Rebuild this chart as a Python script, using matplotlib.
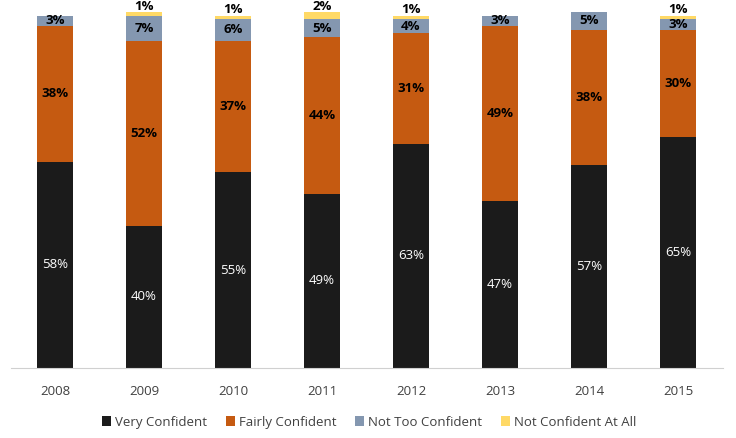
import matplotlib as mpl
mpl.use('Agg')
import matplotlib.pyplot as plt
import numpy as np

years = ['2008', '2009', '2010', '2011', '2012', '2013', '2014', '2015']
very = [58, 40, 55, 49, 63, 47, 57, 65]
fairly = [38, 52, 37, 44, 31, 49, 38, 30]
not_too = [3, 7, 6, 5, 4, 3, 5, 3]
not_at_all = [0, 1, 1, 2, 1, 0, 0, 1]

names = ['Very Confident', 'Fairly Confident', 'Not Too Confident', 'Not Confident At All']
colors = ['#1b1b1b', '#c55a11', '#8497b0', '#ffd966']

plt.rcParams['font.family'] = ['Liberation Sans Narrow', 'Open Sans', 'DejaVu Sans']

fig = plt.figure(figsize=(7.36, 4.38), dpi=100)
ax = fig.add_axes([11 / 736, 70 / 438, 712 / 736, 368 / 438])

x = np.arange(len(years))
bottom = np.zeros(len(years))
series = [very, fairly, not_too, not_at_all]
for i, vals in enumerate(series):
    vals = np.array(vals, dtype=float)
    ax.bar(x, vals, 0.4, bottom=bottom, color=colors[i], label=names[i])
    for j, v in enumerate(vals):
        if v == 0:
            continue
        if i == 0:
            ax.text(x[j], bottom[j] + v / 2, '%d%%' % v, ha='center', va='center',
                    color='white', fontsize=9.5)
        elif i == 3:
            ax.text(x[j], bottom[j] + v - 0.2, '%d%%' % v, ha='center', va='bottom',
                    color='black', fontsize=9.5, fontweight='bold')
        else:
            ax.text(x[j], bottom[j] + v / 2, '%d%%' % v, ha='center', va='center',
                    color='black', fontsize=9.5, fontweight='bold')
    bottom += vals

ax.set_xlim(-0.494, 7.506)
ax.set_ylim(0, 103.4)
ax.set_xticks(x)
ax.set_xticklabels(years, fontsize=9.5, color='#404040')
ax.tick_params(axis='x', length=0, pad=12)
ax.set_yticks([])
for s in ['top', 'left', 'right']:
    ax.spines[s].set_visible(False)
ax.spines['bottom'].set_color('#d0d0d0')

ax.legend(loc='center', bbox_to_anchor=(0.503, -0.147), ncol=4, frameon=False,
          fontsize=9.5, handlelength=0.7, handleheight=0.7, handletextpad=0.3,
          columnspacing=1.4, labelcolor='#404040')

fig.savefig('out.png', dpi=100)
